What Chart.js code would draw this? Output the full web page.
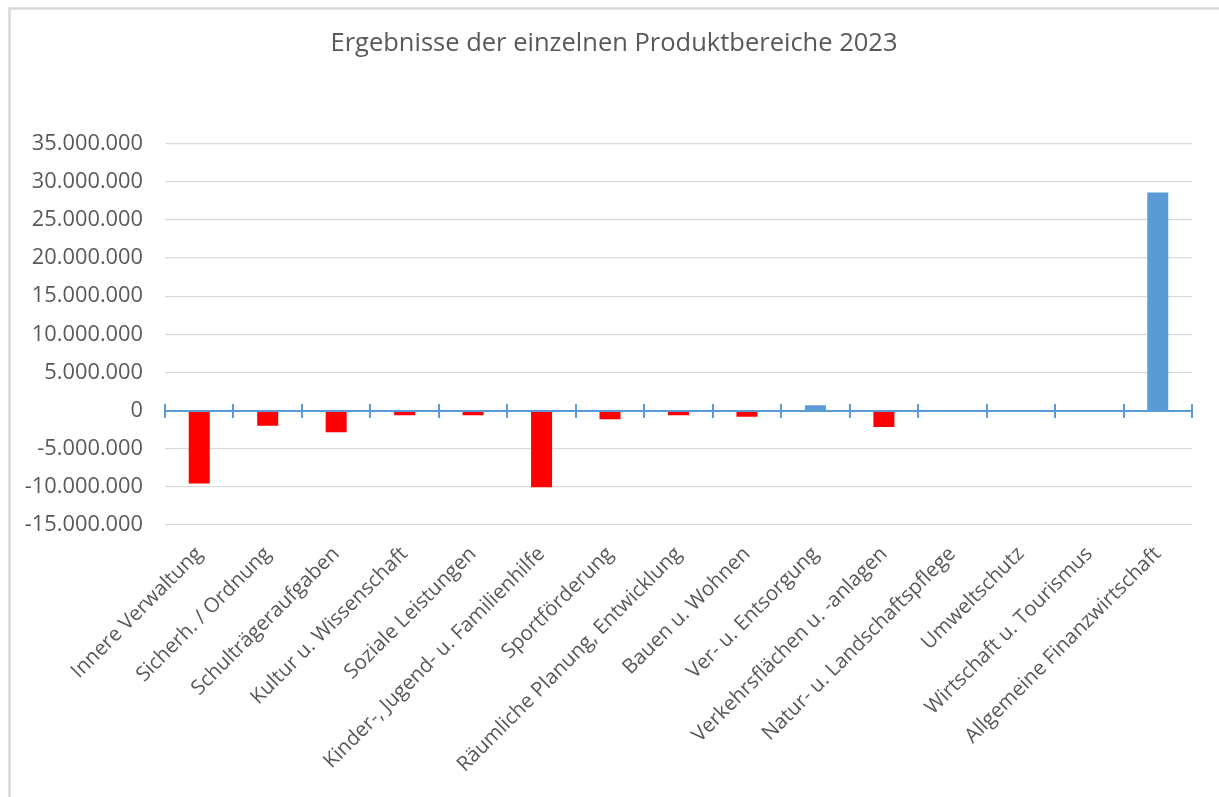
<!DOCTYPE html>
<html>
<head>
<meta charset="utf-8">
<script src="https://cdn.jsdelivr.net/npm/chart.js@4/dist/chart.umd.min.js"></script>
<style>
  html, body { margin: 0; padding: 0; background: #ffffff; }
  #wrap { width: 1219px; height: 797px; position: relative; }
</style>
</head>
<body>
<div id="wrap"><canvas id="c" width="1219" height="797"></canvas></div>
<script>
const chartTitle = "Ergebnisse der einzelnen Produktbereiche 2023";
const categories = [
  "Innere Verwaltung",
  "Sicherh. / Ordnung",
  "Schulträgeraufgaben",
  "Kultur u. Wissenschaft",
  "Soziale Leistungen",
  "Kinder-, Jugend- u. Familienhilfe",
  "Sportförderung",
  "Räumliche Planung, Entwicklung",
  "Bauen u. Wohnen",
  "Ver- u. Entsorgung",
  "Verkehrsflächen u. -anlagen",
  "Natur- u. Landschaftspflege",
  "Umweltschutz",
  "Wirtschaft u. Tourismus",
  "Allgemeine Finanzwirtschaft"
];
const results2023 = [
  -9550000, -2000000, -2850000, -600000, -600000,
  -10050000, -1150000, -600000, -800000, 700000,
  -2150000, 0, 0, 0, 28600000
];
const yMin = -15000000;
const yMax = 35000000;
const yStep = 5000000;

const TEXT = '#595959';
const FONT = "'Open Sans', 'DejaVu Sans', sans-serif";

const frame = {
  id: 'frame',
  beforeDraw(chart) {
    const ctx = chart.ctx;
    ctx.save();
    ctx.fillStyle = '#ffffff';
    ctx.fillRect(0, 0, chart.width, chart.height);
    ctx.strokeStyle = '#D9D9D9';
    ctx.lineWidth = 2.5;
    ctx.strokeRect(9.5, 8.5, chart.width + 20, chart.height + 20);
    ctx.restore();
  }
};

const titleShift = {
  id: 'titleShift',
  afterLayout(chart) {
    if (chart.titleBlock) {
      chart.titleBlock.left = 36;
    }
  }
};

const zeroAxis = {
  id: 'zeroAxis',
  afterDatasetsDraw(chart) {
    const ctx = chart.ctx;
    const xs = chart.scales.x, ys = chart.scales.y;
    const y0 = Math.round(ys.getPixelForValue(0));
    const n = categories.length;
    const step = (xs.right - xs.left) / n;
    ctx.save();
    ctx.strokeStyle = '#5B9BD5';
    ctx.lineWidth = 2;
    ctx.beginPath();
    ctx.moveTo(xs.left, y0);
    ctx.lineTo(xs.right, y0);
    ctx.stroke();
    ctx.beginPath();
    for (let i = 0; i <= n; i++) {
      const px = Math.round(xs.left + i * step);
      ctx.moveTo(px, y0 - 7);
      ctx.lineTo(px, y0 + 7);
    }
    ctx.stroke();
    ctx.restore();
  }
};

new Chart(document.getElementById('c'), {
  type: 'bar',
  data: {
    labels: categories,
    datasets: [{
      data: results2023,
      backgroundColor: ctx => (ctx.raw < 0 ? '#FF0000' : '#5B9BD5'),
      borderWidth: 0,
      barPercentage: 0.307,
      categoryPercentage: 1.0
    }]
  },
  plugins: [frame, titleShift, zeroAxis],
  options: {
    responsive: false,
    animation: false,
    devicePixelRatio: 1,
    layout: { padding: { top: 0, left: 0, right: 27, bottom: 0 } },
    plugins: {
      legend: { display: false },
      tooltip: { enabled: false },
      title: {
        display: true,
        text: chartTitle,
        color: TEXT,
        font: { family: FONT, size: 25.5, weight: 'normal' },
        padding: { top: 28, bottom: 85 }
      }
    },
    scales: {
      x: {
        grid: { display: false, drawTicks: false },
        border: { display: false },
        ticks: {
          color: TEXT,
          font: { family: FONT, size: 20.5 },
          maxRotation: 45,
          minRotation: 45,
          autoSkip: false,
          padding: 17
        },
        afterFit(scale) { scale.height = 272; }
      },
      y: {
        min: yMin,
        max: yMax,
        grid: { color: '#D9D9D9', lineWidth: 1.3, drawTicks: false },
        border: { display: false },
        ticks: {
          stepSize: yStep,
          color: TEXT,
          font: { family: FONT, size: 21.8 },
          padding: 22,
          callback: v => v.toLocaleString('de-DE')
        },
        afterFit(scale) { scale.width = 165; }
      }
    }
  }
});
</script>
</body>
</html>
